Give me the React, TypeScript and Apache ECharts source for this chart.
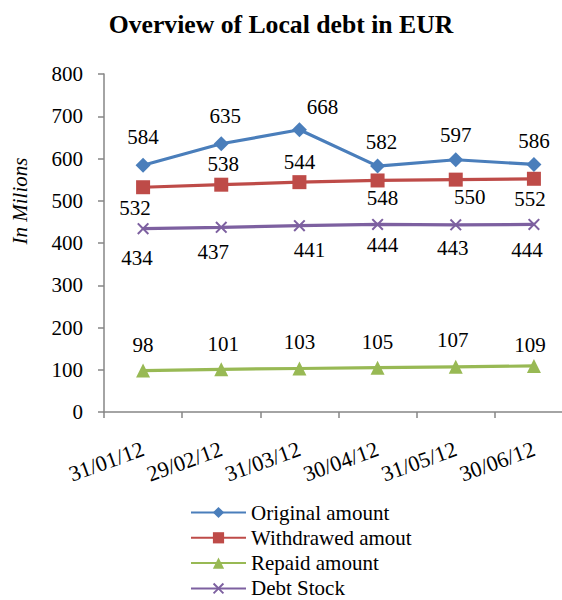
import React, { useEffect, useRef } from "react";
import * as echarts from "echarts";

const categories = ["31/01/12", "29/02/12", "31/03/12", "30/04/12", "31/05/12", "30/06/12"];
const originalAmount = [584, 635, 668, 582, 597, 586];
const withdrawedAmount = [532, 538, 544, 548, 550, 552];
const repaidAmount = [98, 101, 103, 105, 107, 109];
const debtStock = [434, 437, 441, 444, 443, 444];
const yTicks = { min: 0, max: 800, interval: 100 };

// label placement (styling)
const withdrawedLabelPos = ["bottom", "top", "top", "bottom", "bottom", "bottom"];
const originalLabelOffset = [[0, 0], [4, 0], [23, 5], [4, 4], [0, 3], [0, 5]];
const withdrawedLabelOffset = [[-8, 0], [2, 0], [0, 0], [5, -3], [14, -3], [-4, 0]];
const repaidLabelOffset = [[0, 0], [2, 0], [0, -1], [0, 0], [-3, -1], [-4, 5]];
const debtLabelOffset = [[-6, 3], [-8, -2], [10, -2], [5, -6], [-3, -3], [-7, -1]];

const FONT = "Liberation Serif";
const X_PATH =
  "path://M0.12,0 L0.5,0.38 L0.88,0 L1,0.12 L0.62,0.5 L1,0.88 L0.88,1 L0.5,0.62 L0.12,1 L0,0.88 L0.38,0.5 L0,0.12 Z";

export default function App() {
  const ref = useRef<HTMLDivElement>(null);
  useEffect(() => {
    document.body.style.margin = "0";
    const chart = echarts.init(ref.current!, undefined, { renderer: "svg" });
    const labelStyle = { fontFamily: FONT, fontSize: 21, color: "#000" };
    const mk = (
      name: string,
      data: number[],
      color: string,
      symbol: string,
      symbolSize: number,
      pos: any,
      distance: number,
      offsets: number[][]
    ) => ({
      name,
      type: "line",
      data: data.map((v, i) => ({
        value: v,
        label: { position: Array.isArray(pos) ? pos[i] : pos, offset: offsets[i] },
      })),
      symbol,
      symbolSize,
      lineStyle: { color, width: 3.2 },
      itemStyle: { color },
      label: { show: true, distance, ...labelStyle },
    });
    chart.setOption({
      animation: false,
      backgroundColor: "#fff",
      textStyle: { fontFamily: FONT },
      title: {
        text: "Overview of Local debt in EUR",
        left: 276,
        textAlign: "center",
        top: 6,
        textStyle: { fontFamily: FONT, fontSize: 25.7, fontWeight: "bold", color: "#000" },
      },
      grid: { left: 104, right: -11, top: 74, bottom: 188, containLabel: false, outerBoundsMode: "none" },
      xAxis: {
        type: "category",
        data: categories,
        boundaryGap: true,
        axisLine: { lineStyle: { color: "#868686", width: 1.5 } },
        axisTick: { show: true, length: 6, lineStyle: { color: "#868686", width: 1.5 } },
        axisLabel: { interval: 0, rotate: 20, margin: 36, fontFamily: FONT, fontSize: 22, color: "#000" },
      },
      yAxis: {
        type: "value",
        min: yTicks.min,
        max: yTicks.max,
        interval: yTicks.interval,
        splitLine: { show: false },
        axisLine: { show: true, lineStyle: { color: "#868686", width: 1.5 } },
        axisTick: { show: true, length: 6, lineStyle: { color: "#868686", width: 1.5 } },
        axisLabel: { margin: 21, fontFamily: FONT, fontSize: 21, color: "#000" },
      },
      legend: {
        orient: "vertical",
        left: 190,
        top: 502,
        height: 120,
        padding: 0,
        itemWidth: 55,
        itemHeight: 14,
        itemGap: 4.3,
        textStyle: { fontFamily: FONT, fontSize: 21, color: "#000", lineHeight: 21 },
        data: ["Original amount", "Withdrawed amout", "Repaid amount", "Debt Stock"],
      },
      graphic: [
        {
          type: "text",
          x: 20,
          y: 201,
          rotation: Math.PI / 2,
          style: {
            text: "In Milions",
            font: "italic 21px 'Liberation Serif'",
            fill: "#000",
            align: "center",
            verticalAlign: "middle",
          },
        },
      ],
      series: [
        mk("Original amount", originalAmount, "#4A7EBB", "diamond", 15, "top", 10, originalLabelOffset),
        mk("Withdrawed amout", withdrawedAmount, "#BE4B48", "rect", 14, withdrawedLabelPos, 3, withdrawedLabelOffset),
        mk("Repaid amount", repaidAmount, "#98B954", "triangle", 14, "top", 8, repaidLabelOffset),
        mk("Debt Stock", debtStock, "#7D60A0", X_PATH, 12, "bottom", 10, debtLabelOffset),
      ],
    });
    return () => chart.dispose();
  }, []);
  return <div ref={ref} style={{ width: 562, height: 600 }} />;
}
